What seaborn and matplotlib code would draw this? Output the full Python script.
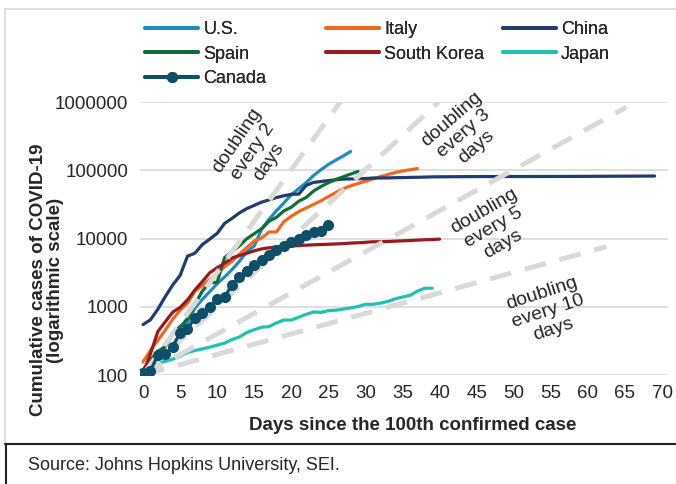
import numpy as np
import pandas as pd
import seaborn as sns
import matplotlib.pyplot as plt
from matplotlib.lines import Line2D

# cumulative confirmed cases, day 0 = day of the 100th case
china = [548, 643, 920, 1406, 2075, 2877, 5509, 6087, 8141, 9802,
         11891, 16630, 19716, 23707, 27440, 30587, 34110, 36814, 39829, 42354,
         44386, 44759, 59895, 66358, 68413, 70513, 72434, 74211, 74619, 75077,
         75550, 77001, 77022, 77241, 77754, 78166, 78600, 78928, 79356, 79932,
         80136, 80261, 80386, 80537, 80690, 80770, 80823, 80860, 80887, 80921,
         80932, 80945, 80977, 81003, 81033, 81058, 81102, 81156, 81250, 81305,
         81435, 81498, 81591, 81661, 81782, 81897, 81999, 82122, 82198, 82279]
us = [118, 149, 217, 262, 402, 518, 583, 959, 1281, 1663,
      2179, 2726, 3499, 4632, 6421, 7786, 13680, 19101, 25493, 33276,
      43847, 53740, 65778, 83836, 101657, 121478, 140886, 161807, 188172]
italy = [155, 229, 322, 453, 655, 888, 1128, 1694, 2036, 2502,
         3089, 3858, 4636, 5883, 7375, 9172, 10149, 12462, 12462, 17660,
         21157, 24747, 27980, 31506, 35713, 41035, 47021, 53578, 59138, 63927,
         69176, 74386, 80589, 86498, 92472, 97689, 101739, 105792]
spain = [120, 165, 222, 259, 400, 500, 673, 1073, 1695, 2277,
         2277, 5232, 6391, 7798, 9942, 11748, 13910, 17963, 20410, 25374,
         28768, 35136, 39885, 49515, 57786, 65719, 73235, 80110, 87956, 95923]
south_korea = [104, 204, 433, 602, 833, 977, 1261, 1766, 2337, 3150,
               3736, 4335, 5186, 5621, 6088, 6593, 7041, 7314, 7478, 7513,
               7755, 7869, 7979, 8086, 8162, 8236, 8320, 8413, 8565, 8652,
               8799, 8961, 8961, 9037, 9137, 9241, 9332, 9478, 9583, 9661, 9786]
japan = [105, 122, 147, 159, 170, 189, 214, 228, 241, 256,
         274, 293, 331, 360, 420, 461, 502, 511, 581, 639,
         639, 701, 773, 839, 825, 878, 889, 924, 963, 1007,
         1086, 1086, 1128, 1193, 1307, 1387, 1468, 1693, 1866, 1866]
canada = [108, 115, 196, 200, 260, 416, 480, 680, 800, 1000,
          1290, 1400, 2080, 2700, 3380, 4070, 4800, 5700, 6700, 7700,
          8900, 10000, 11200, 12300, 13000, 15800]

countries = ["U.S.", "Italy", "China", "Spain", "South Korea", "Japan", "Canada"]
series = [us, italy, china, spain, south_korea, japan, canada]
colors = ["#1f8cc0", "#f4661c", "#1f3b70", "#0e6e35", "#981b1b", "#1fc2b1", "#0c4f66"]

# reference lines: start at 100 cases, end points
doubling = ["2", "3", "5", "10"]
ref_end_day = [26.6, 39.9, 65.2, 62.5]
ref_end_val = [1000000, 1000000, 840000, 7600]
ref_label_day = [14.8, 43.3, 47.3, 54.6]
ref_label_val = [190000, 350000, 14500, 850]
ref_label_rot = [56, 41, 30, 18]

yticks = [100, 1000, 10000, 100000, 1000000]
xticks = list(range(0, 75, 5))

sns.set_style("white")
plt.rcParams["font.family"] = ["Liberation Sans", "DejaVu Sans"]

fig = plt.figure(figsize=(6.76, 4.84), dpi=100)
ax = fig.add_axes([140 / 676, 109 / 484, 528 / 676, 273 / 484])

frames = []
for name, vals in zip(countries, series):
    frames.append(pd.DataFrame({"day": np.arange(len(vals)), "cases": vals, "country": name}))
df = pd.concat(frames, ignore_index=True)

ref = pd.DataFrame({
    "day": [v for d in ref_end_day for v in (0, d)],
    "cases": [v for c in ref_end_val for v in (100, c)],
    "every": [k for k in doubling for _ in range(2)],
})

for name, col in zip(countries[:-1], colors[:-1]):
    sns.lineplot(data=df[df.country == name], x="day", y="cases", color=col,
                 lw=2.3, ax=ax, zorder=3, legend=False)

for k in doubling:
    sub = ref[ref.every == k]
    sns.lineplot(data=sub, x="day", y="cases", color="#d9d9d9", lw=3.6,
                 dashes=(4.4, 2.8), ax=ax, zorder=4, legend=False)

sns.lineplot(data=df[df.country == "Canada"], x="day", y="cases", color=colors[-1],
             lw=2.3, marker="o", markersize=8, markeredgewidth=0, ax=ax, zorder=5,
             legend=False)

for k, d, v, r in zip(doubling, ref_label_day, ref_label_val, ref_label_rot):
    ax.text(d, v, f"doubling\nevery {k}\ndays", rotation=r, rotation_mode="anchor",
            ha="center", va="center", multialignment="center", fontsize=14,
            linespacing=1.15, zorder=6)

ax.set_yscale("log")
ax.set_ylim(100, 1000000)
ax.set_xlim(-0.405, 70.8)
ax.set_yticks(yticks)
ax.set_yticklabels([str(t) for t in yticks])
ax.yaxis.set_minor_locator(plt.NullLocator())
ax.set_xticks(xticks)
ax.set_xticklabels([str(t) for t in xticks])
ax.tick_params(axis="y", length=0, pad=8.6, labelsize=13.5)
ax.tick_params(axis="x", length=0, pad=7, labelsize=13.5)
ax.grid(axis="y", color="#d9d9d9", lw=1.2)
ax.grid(axis="x", visible=False)
sns.despine(ax=ax, left=True, bottom=True)
ax.set_xlabel("")
ax.set_ylabel("")

fig.text(413 / 676, 1 - 426 / 484, "Days since the 100th confirmed case",
         ha="center", va="center", fontsize=13.5, fontweight="bold")
fig.text(47 / 676, 1 - 280 / 484, "Cumulative cases of COVID-19\n(logarithmic scale)",
         ha="center", va="center", rotation=90, multialignment="center",
         fontsize=13.5, fontweight="bold", linespacing=1.0)

# legend laid out as a 3-column grid
handles = {}
for name, col in zip(countries, colors):
    if name == "Canada":
        handles[name] = Line2D([], [], color=col, lw=2.8, marker="o", markersize=8,
                               markeredgewidth=0)
    else:
        handles[name] = Line2D([], [], color=col, lw=2.8)
columns = [["U.S.", "Spain", "Canada"], ["Italy", "South Korea"], ["China", "Japan"]]
col_x = [145, 326, 503]
for names, x0 in zip(columns, col_x):
    leg = fig.legend([handles[n] for n in names], names, loc="upper left",
                     bbox_to_anchor=(x0 / 676, 1 - 21 / 484), bbox_transform=fig.transFigure,
                     frameon=False, fontsize=13, handlelength=2.94, handletextpad=0.28,
                     labelspacing=0.42, borderpad=0, borderaxespad=0)
    fig.add_artist(leg)

# outer frame and source box
fig.add_artist(Line2D([5 / 676, 1], [1 - 9 / 484, 1 - 9 / 484], color="#d9d9d9", lw=1.2,
                      transform=fig.transFigure))
fig.add_artist(Line2D([5 / 676, 5 / 676], [1 - 9 / 484, 1 - 444 / 484], color="#d9d9d9",
                      lw=1.2, transform=fig.transFigure))
fig.add_artist(Line2D([5 / 676, 1], [1 - 444 / 484, 1 - 444 / 484], color="#222222", lw=1.5,
                      transform=fig.transFigure))
fig.add_artist(Line2D([6 / 676, 6 / 676], [1 - 444 / 484, 0], color="#222222", lw=1.5,
                      transform=fig.transFigure))
fig.text(28 / 676, 1 - 466 / 484, "Source: Johns Hopkins University, SEI.",
         ha="left", va="center", fontsize=13)

fig.savefig("out.png", dpi=100)
